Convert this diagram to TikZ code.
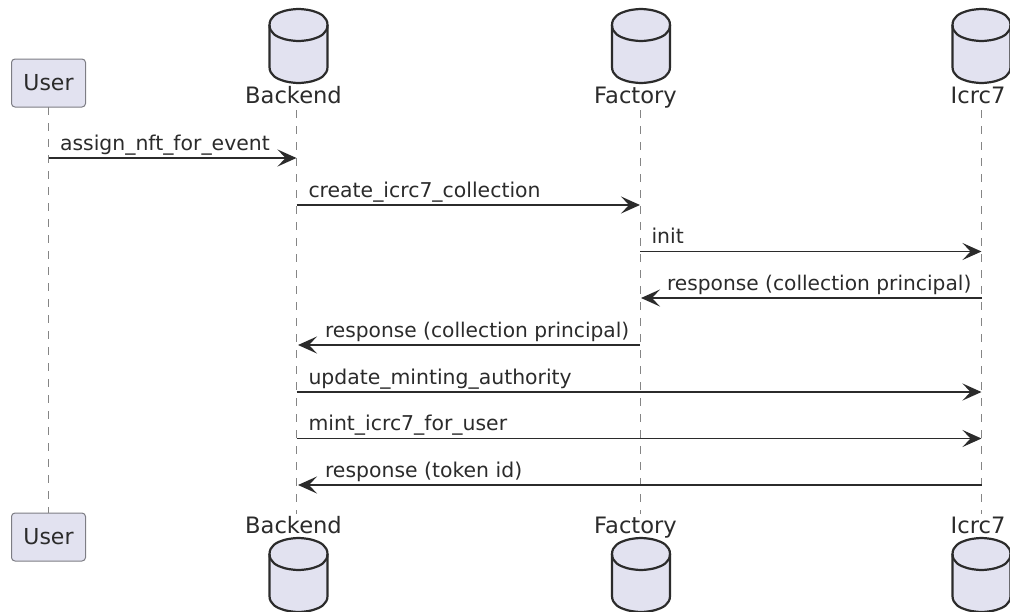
\documentclass[tikz,border=0pt]{standalone}
\usepackage{fontspec}
\setmainfont{DejaVu Sans}
\usetikzlibrary{arrows.meta,positioning}
\definecolor{partfill}{HTML}{E2E2F0}
\definecolor{inkdark}{HTML}{2B2B2B}
\tikzset{>={Stealth[length=19pt,width=17pt,inset=8pt]}}

\begin{document}
\begin{tikzpicture}[x=1pt,y=-1pt]
	\tikzset{box/.style={draw=inkdark!55!partfill, fill=partfill, rectangle, rounded corners=3.5pt, line width=1pt, minimum width=74pt, minimum height=48pt, inner sep=0pt, outer sep=0pt, text=inkdark, font=\fontsize{22}{24}\selectfont},
		dblabel/.style={rectangle, inner sep=0pt, outer sep=0pt, text=inkdark, text height=17pt, text depth=0pt, font=\fontsize{22.6}{24}\selectfont},
		msglabel/.style={rectangle, inner sep=0pt, outer sep=0pt, text=inkdark, text height=15pt, text depth=5pt, font=\fontsize{20.4}{24}\selectfont},
		resplabel/.style={msglabel, font=\fontsize{20.2}{24}\selectfont},
		lifeline/.style={draw=black!48, line width=1.4pt, dash pattern=on 8pt off 8pt},
		msg/.style={->, draw=inkdark, line width=1.7pt},
		db/.pic={
			\draw[draw=inkdark, fill=partfill, line width=2.2pt, line join=round]
				(-29,16) .. controls (-29,0) and (0,0) .. (0,0) .. controls (0,0) and (29,0) .. (29,16)
				-- (29,58) .. controls (29,74) and (0,74) .. (0,74) .. controls (0,74) and (-29,74) .. (-29,58) -- cycle;
			\draw[draw=inkdark, line width=2.2pt]
				(-29,16) .. controls (-29,32) and (0,32) .. (0,32) .. controls (0,32) and (29,32) .. (29,16);
		}
	}
	\useasboundingbox (0,0) rectangle (1010,611);
	\clip (0,0) rectangle (1010,611);

	% heads
	\node [box] (userhead) at (48.5,83) {User};
	\node [dblabel] (backendhead) at (293.5,95) {Backend};
	\node [dblabel] (factoryhead) at (635.5,95) {Factory};
	\node [dblabel] (icrchead) at (978,95) {Icrc7};
	\pic at (298.5,9) {db};
	\pic at (641,9) {db};
	\pic at (981.5,9) {db};

	% feet
	\node [box] (userfoot) at (48.5,537) {User};
	\node [dblabel] (backendfoot) at (293.5,524.5) {Backend};
	\node [dblabel] (factoryfoot) at (635.5,524.5) {Factory};
	\node [dblabel] (icrcfoot) at (978,524.5) {Icrc7};
	\pic at (298.5,538) {db};
	\pic at (641,538) {db};
	\pic at (981.5,538) {db};

	% lifeline ends
	\coordinate (backendtop) at (296.5,110);
	\coordinate (backendbot) at (296.5,514);
	\coordinate (factorytop) at (640.5,110);
	\coordinate (factorybot) at (640.5,514);
	\coordinate (icrctop) at (981.5,110);
	\coordinate (icrcbot) at (981.5,514);
	\draw [lifeline] (userhead) -- (userfoot);
	\draw [lifeline] (backendtop) -- (backendbot);
	\draw [lifeline] (factorytop) -- (factorybot);
	\draw [lifeline] (icrctop) -- (icrcbot);

	% message ends
	\coordinate (u1) at (48.5,158);
	\coordinate (b1) at (296.5,158);
	\coordinate (b2) at (296.5,205);
	\coordinate (f2) at (640,205);
	\coordinate (f3) at (640,251.5);
	\coordinate (i3) at (981.5,251.5);
	\coordinate (i4) at (981.5,298);
	\coordinate (f4) at (641,298);
	\coordinate (f5) at (640,345);
	\coordinate (b5) at (298,345);
	\coordinate (b6) at (296.5,392);
	\coordinate (i6) at (981.5,392);
	\coordinate (b7) at (296.5,438.5);
	\coordinate (i7) at (981.5,438.5);
	\coordinate (i8) at (981.5,485);
	\coordinate (b8) at (298,485);

	\draw [msg] (u1) -- (b1);
	\draw [msg] (b2) -- (f2);
	\draw [msg] (f3) -- (i3);
	\draw [msg] (i4) -- (f4);
	\draw [msg] (f5) -- (b5);
	\draw [msg] (b6) -- (i6);
	\draw [msg] (b7) -- (i7);
	\draw [msg] (i8) -- (b8);

	\node [msglabel, above right = 3pt and 11.5pt of u1] (l1) {assign\_nft\_for\_event};
	\node [msglabel, above right = 3pt and 12pt of b2] (l2) {create\_icrc7\_collection};
	\node [msglabel, above right = 3pt and 11.5pt of f3] (l3) {init};
	\node [resplabel, above right = 3pt and 26pt of f4] (l4) {response (collection principal)};
	\node [resplabel, above right = 3pt and 27pt of b5] (l5) {response (collection principal)};
	\node [msglabel, above right = 3pt and 12pt of b6] (l6) {update\_minting\_authority};
	\node [msglabel, above right = 3pt and 12pt of b7] (l7) {mint\_icrc7\_for\_user};
	\node [msglabel, above right = 3pt and 27pt of b8] (l8) {response (token id)};
\end{tikzpicture}
\end{document}
